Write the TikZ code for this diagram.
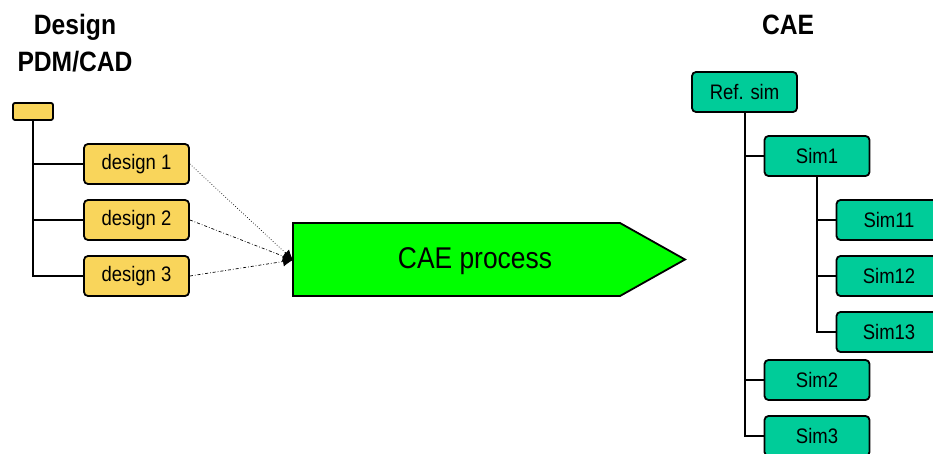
\documentclass[tikz,border=0pt]{standalone}
\usepackage{fontspec}
\setmainfont{Liberation Sans}[FakeStretch=0.88]
\usetikzlibrary{arrows.meta}
\definecolor{dsgyellow}{HTML}{F9D55B}
\definecolor{simteal}{HTML}{00CC99}

\begin{document}
\begin{tikzpicture}[x=1pt,y=-1pt,
    box/.style={draw,line width=1.8pt,rounded corners=4pt,minimum width=105pt,minimum height=40pt,inner sep=0pt,font=\fontsize{21}{23}\selectfont},
    dsg/.style={box,fill=dsgyellow},
    sim/.style={box,fill=simteal},
    tree/.style={line width=2pt},
    link/.style={line width=0.7pt,-{Latex[length=10pt,width=10pt]}},
    head/.style={anchor=base,font=\fontsize{28}{30}\selectfont\bfseries}]
    \useasboundingbox (0,0) rectangle (933,454);
    % headings
    \node[head] (hdesign) at (75,35) {Design};
    \node[head] (hpdm) at (75,72) {PDM/CAD};
    \node[head] (hcae) at (788,35) {CAE};
    % design tree
    \node[dsg,minimum width=40pt,minimum height=17pt,rounded corners=2pt] (root) at (33,111.5) {};
    \foreach \i/\y in {1/164,2/220,3/276} {
        \node[dsg] (d\i) at (136.5,\y) {design \i};
        \draw[tree] (root.south) |- (d\i.west);
    }
    % process
    \draw[line width=1.8pt,fill=green] (293,223) -- (620,223) -- (685,259.5) -- (620,296) -- (293,296) -- cycle;
    \node[font=\fontsize{30}{32}\selectfont] (proc) at (475,261) {CAE process};
    \coordinate (procin) at (293,260);
    \draw[link,dotted] (d1.east) -- (procin);
    \draw[link,dash dot] (d2.east) -- (procin);
    \draw[link,dash dot] (d3.east) -- (procin);
    % simulation tree
    \node[sim] (ref) at (744.5,92) {Ref. sim};
    \node[sim] (s1) at (817,156) {Sim1};
    \node[sim] (s2) at (817,380) {Sim2};
    \node[sim] (s3) at (817,436) {Sim3};
    \foreach \i/\y in {1/220,2/276,3/332} {
        \node[sim] (s1\i) at (889,\y) {Sim1\i};
        \draw[tree] (s1.south) |- (s1\i.west);
    }
    \foreach \n in {s1,s2,s3}
        \draw[tree] (ref.south) |- (\n.west);
\end{tikzpicture}
\end{document}
